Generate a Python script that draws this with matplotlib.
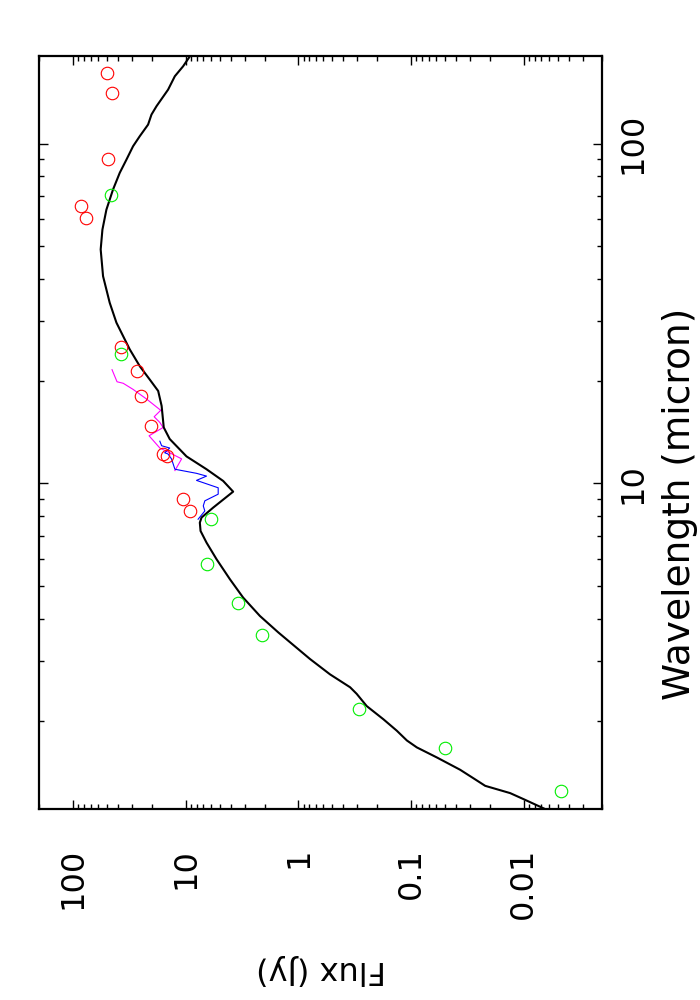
import matplotlib
matplotlib.use("Agg")
import matplotlib.pyplot as plt
from matplotlib.ticker import FixedLocator, LogLocator, NullFormatter
import numpy as np

plt.rcParams['font.family'] = ['DejaVu Sans']

# Model SED (black line)
model_wave = [1.105, 1.176, 1.225, 1.287, 1.354, 1.435, 1.56, 1.67, 1.75, 1.87,
              2.02, 2.21, 2.40, 2.51, 2.74, 3.04, 3.64, 4.07, 4.61, 5.22,
              5.98, 6.69, 7.24, 7.66, 7.93, 8.48, 9.45, 10.16, 11.0, 12.0,
              13.5, 14.6, 16.9, 18.7, 20.2, 22.1, 24.8, 26.5, 29.7, 34.0,
              40.7, 48.8, 55.8, 63.9, 73.2, 82.0, 89.7, 98.2, 105.1, 113.7,
              121.7, 128.8, 144.1, 157.8, 168.8, 180.6]
model_flux = [0.00667, 0.01004, 0.0132, 0.0220, 0.0279, 0.0367, 0.0591, 0.0890, 0.109, 0.134,
              0.176, 0.248, 0.304, 0.348, 0.525, 0.790, 1.51, 2.20, 3.10, 4.06,
              5.34, 6.55, 7.40, 7.51, 7.25, 5.72, 3.80, 4.66, 6.55, 9.86,
              13.9, 15.7, 16.4, 17.6, 20.9, 25.6, 31.5, 34.8, 41.3, 47.4,
              54.3, 57.0, 55.0, 50.7, 44.3, 38.6, 33.65, 29.4, 25.64, 21.63,
              20.18, 18.21, 14.37, 12.52, 10.57, 9.21]

# Spectrum 1 (magenta)
lrs_wave = [21.6, 19.9, 19.7, 18.9, 17.7, 16.4, 15.7, 15.1, 14.6, 13.8, 12.7, 12.3, 11.8, 10.9]
lrs_flux = [45.2, 40.8, 36.0, 29.4, 22.3, 16.7, 19.1, 17.0, 15.9, 21.2, 17.0, 13.9, 10.9, 12.5]

# Spectrum 2 (blue)
spec_wave = [13.3, 12.9, 12.7, 12.3, 12.2, 11.8, 11.0, 10.7, 10.5, 10.2, 9.7, 9.29, 8.88, 8.58, 8.29, 7.84]
spec_flux = [17.0, 16.4, 13.9, 15.4, 14.4, 13.4, 12.5, 8.04, 6.55, 8.04, 5.16, 5.16, 6.78, 7.0, 6.78, 7.78]

# Photometry (red circles)
red_wave = [161, 141, 90.3, 65.3, 60.3, 25.2, 21.4, 18.1, 14.7, 12.2, 12.0, 9.0, 8.3]
red_flux = [50.1, 45.5, 49.3, 84.5, 76.4, 37.3, 26.9, 24.8, 20.5, 15.9, 14.7, 10.6, 9.2]

# Photometry (green circles)
green_wave = [70.5, 24.1, 7.87, 5.77, 4.45, 3.57, 2.16, 1.66, 1.24]
green_flux = [46.4, 37.3, 6.03, 6.55, 3.45, 2.11, 0.290, 0.0499, 0.00467]

flux_ticks = [100, 10, 1, 0.1, 0.01]
flux_tick_labels = ['100', '10', '1', '0.1', '0.01']
wave_ticks = [10, 100]
wave_tick_labels = ['10', '100']

fig = plt.figure(figsize=(7, 10), dpi=100)
ax = fig.add_axes([0.0561, 0.191, 0.8046, 0.753])
ax.set_xscale('log')
ax.set_yscale('log')

ax.plot(model_flux, model_wave, color='black', lw=1.5, zorder=3)
ax.plot(lrs_flux, lrs_wave, color='#ff00ff', lw=0.8, zorder=2)
ax.plot(spec_flux, spec_wave, color='#0000ff', lw=0.8, zorder=2)
ax.plot(red_flux, red_wave, 'o', mfc='none', mec='#ff0000', ms=9, mew=0.8, zorder=4)
ax.plot(green_flux, green_wave, 'o', mfc='none', mec='#00ee00', ms=9, mew=0.8, zorder=4)

ax.set_xlim(200, 0.002)
ax.set_ylim(1.1, 181)

ax.xaxis.set_major_locator(FixedLocator(flux_ticks))
ax.set_xticklabels(flux_tick_labels)
ax.xaxis.set_minor_locator(LogLocator(base=10, subs=np.arange(2, 10), numticks=30))
ax.xaxis.set_minor_formatter(NullFormatter())
ax.yaxis.set_major_locator(FixedLocator(wave_ticks))
ax.set_yticklabels(wave_tick_labels)
ax.yaxis.set_minor_locator(LogLocator(base=10, subs=np.arange(2, 10), numticks=30))
ax.yaxis.set_minor_formatter(NullFormatter())

ax.tick_params(which='both', direction='in', top=True, bottom=True, left=True, right=True,
               labelleft=False, labelright=True, labelbottom=True, labeltop=False, width=1.0)
ax.tick_params(which='major', length=6.5)
ax.tick_params(which='minor', length=3.6)
ax.tick_params(axis='x', which='major', labelsize=23, pad=28)
ax.tick_params(axis='y', which='major', labelsize=23, pad=11)

for lab in ax.get_xticklabels():
    lab.set_rotation(90)
    lab.set_rotation_mode('anchor')
    lab.set_ha('right')
    lab.set_va('center')
for lab in ax.get_yticklabels():
    lab.set_rotation(90)
    lab.set_ha('left')
    lab.set_va('center')

for sp in ax.spines.values():
    sp.set_linewidth(1.6)

ax.set_xlabel('Flux (Jy)', fontsize=23, rotation=180)
ax.xaxis.label.set_ha('center')
ax.xaxis.label.set_va('center')
ax.xaxis.set_label_coords(0.5, -0.213)

ax.yaxis.set_label_position('right')
ax.set_ylabel('Wavelength (micron)', fontsize=27, rotation=90)
ax.yaxis.label.set_ha('center')
ax.yaxis.label.set_va('center')
ax.yaxis.set_label_coords(1.138, 0.405)

fig.savefig('out.png', dpi=100)
